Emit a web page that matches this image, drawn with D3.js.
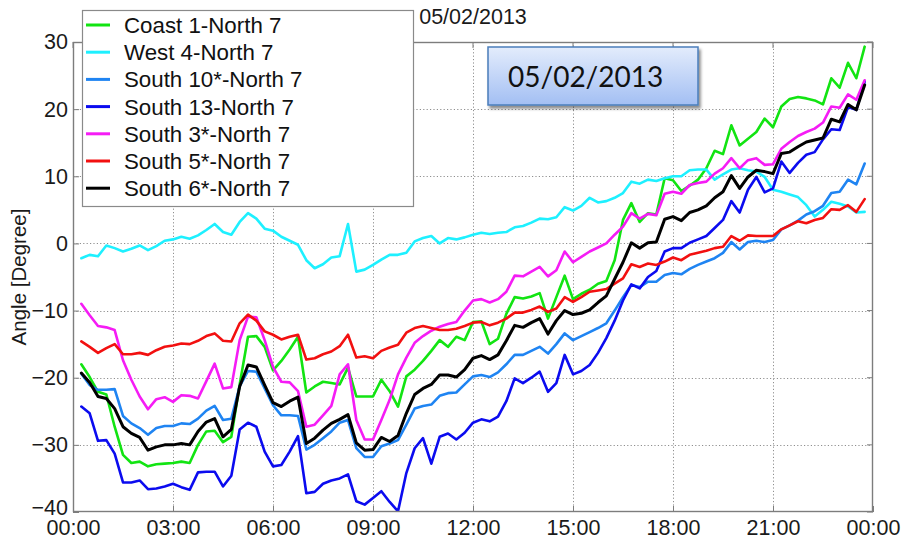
<!DOCTYPE html>
<html><head><meta charset="utf-8">
<script src="https://cdn.jsdelivr.net/npm/d3@7/dist/d3.min.js"></script>
<style>
body{margin:0;background:#fff;}
svg{display:block;font-family:"Liberation Sans",Arial,Helvetica,sans-serif;}
</style>
</head><body>
<svg id="chart" width="904" height="542"></svg>
<script>
// ---------- data ----------
const titleText = "05/02/2013";
const boxText = "05/02/2013";
const yLabel = "Angle [Degree]";
const yTicks = [-40,-30,-20,-10,0,10,20,30];
const xTickHours = [0,3,6,9,12,15,18,21,24];
const xTickLabels = ["00:00","03:00","06:00","09:00","12:00","15:00","18:00","21:00","00:00"];
const seriesNames = ["Coast 1-North 7","West 4-North 7","South 10*-North 7","South 13-North 7","South 3*-North 7","South 5*-North 7","South 6*-North 7"];
const seriesColors = ["#12e412","#1ef0ff","#1f84f2","#0b0bef","#f51cf5","#f21010","#000000"];
// sample times: every 15 minutes from 00:15 to 23:45 (hours)
const hours = d3.range(1,96).map(i => i*0.25);

const coast1 = [-18.0,-19.9,-22.1,-22.5,-27.3,-31.5,-32.7,-32.5,-33.2,-32.9,
 -32.8,-32.7,-32.5,-32.7,-30.0,-28.0,-27.9,-29.6,-28.8,-21.0,
 -13.9,-13.8,-15.4,-18.9,-17.5,-15.8,-13.9,-22.2,-21.3,-20.6,
 -20.8,-21.0,-18.5,-22.8,-22.8,-22.8,-20.3,-22.0,-24.3,-19.8,
 -18.8,-17.5,-16.0,-14.4,-15.4,-13.9,-14.4,-11.7,-11.6,-15.0,
 -14.2,-10.5,-8.0,-8.2,-7.9,-7.4,-11.2,-8.0,-4.8,-8.3,
 -7.5,-6.9,-6.0,-5.6,-2.5,3.5,6.0,3.2,4.5,4.3,
 9.7,9.4,7.8,8.6,9.5,11.2,13.8,13.3,17.6,14.6,
 15.6,16.6,18.6,17.3,20.4,21.5,21.8,21.6,21.3,20.7,
 24.6,23.2,26.9,24.6,29.3];
const west4 = [-2.2,-1.7,-1.9,-0.3,-0.7,-1.2,-0.8,-0.3,-1.0,-0.4,
 0.4,0.6,1.0,0.7,1.2,2.0,2.9,1.7,1.3,3.2,
 4.5,3.7,2.2,1.9,1.0,0.4,-0.2,-2.5,-3.7,-3.1,
 -2.1,-1.9,2.9,-4.2,-3.9,-3.2,-2.4,-1.7,-1.7,-1.4,
 0.3,0.8,1.1,0.0,0.8,0.6,0.9,1.3,1.6,1.4,
 1.6,1.7,2.4,2.6,3.1,3.7,3.6,3.9,5.4,4.9,
 5.6,6.8,6.1,6.3,6.8,7.5,9.2,8.9,9.5,9.3,
 9.7,10.0,10.0,10.9,11.0,11.0,9.5,10.3,11.0,11.2,
 10.9,10.7,9.9,8.0,7.7,7.3,6.9,5.7,4.0,5.0,
 6.2,5.9,5.5,4.6,4.7];
const south10 = [-19.4,-21.1,-21.8,-21.8,-21.7,-25.7,-26.8,-27.5,-28.5,-27.5,
 -27.2,-27.2,-26.8,-26.9,-26.1,-24.9,-24.2,-26.3,-26.1,-21.3,
 -19.0,-19.1,-21.6,-24.1,-25.6,-25.6,-25.7,-30.7,-30.0,-29.0,
 -28.0,-26.7,-26.3,-30.5,-31.8,-31.8,-30.2,-29.8,-29.3,-27.0,
 -24.6,-24.2,-24.0,-22.7,-22.3,-22.2,-21.0,-19.8,-19.6,-19.9,
 -19.2,-18.0,-16.6,-16.6,-16.0,-15.4,-16.4,-15.0,-13.4,-14.4,
 -13.8,-13.2,-12.6,-11.9,-10.0,-8.0,-6.2,-6.5,-5.7,-5.7,
 -4.7,-4.4,-4.6,-3.8,-3.2,-2.7,-2.2,-1.4,0.2,-0.9,
 0.2,0.4,0.2,0.5,2.1,2.7,3.4,4.3,4.8,5.6,
 7.5,7.7,9.5,8.8,11.9];
const south13 = [-24.3,-25.3,-29.4,-29.3,-31.3,-35.6,-35.6,-35.3,-36.6,-36.5,
 -36.2,-35.8,-36.3,-36.7,-34.1,-34.0,-34.0,-36.2,-34.6,-27.7,
 -26.7,-27.3,-31.0,-33.2,-33.0,-31.0,-28.7,-37.2,-37.0,-35.8,
 -35.3,-35.0,-34.4,-38.4,-38.9,-37.9,-36.9,-38.5,-39.9,-34.2,
 -30.5,-29.0,-32.8,-28.8,-28.3,-29.2,-28.2,-26.7,-26.2,-26.5,
 -25.8,-23.5,-20.1,-20.8,-20.0,-19.1,-22.1,-20.8,-16.6,-19.5,
 -19.0,-18.1,-16.3,-14.1,-11.5,-8.5,-6.1,-6.7,-5.0,-4.1,
 -1.2,-0.7,-0.7,0.1,0.6,1.1,2.3,3.5,6.3,4.6,
 8.0,9.9,7.6,8.2,12.2,10.5,12.0,13.2,13.6,15.5,
 17.0,16.9,20.3,19.9,24.1];
const south3 = [-9.0,-10.7,-12.3,-12.5,-12.9,-17.4,-20.3,-22.8,-24.7,-23.2,
 -22.9,-23.6,-22.6,-22.7,-23.1,-20.5,-17.9,-21.6,-21.4,-14.4,
 -10.9,-11.0,-14.4,-18.4,-20.6,-20.7,-22.0,-27.3,-27.0,-25.6,
 -24.2,-19.5,-18.0,-26.3,-29.2,-29.2,-26.3,-23.3,-19.5,-17.0,
 -14.8,-13.8,-13.0,-12.4,-12.0,-11.7,-10.0,-8.5,-8.3,-8.8,
 -8.3,-7.2,-4.8,-4.9,-4.2,-3.5,-4.9,-4.0,-1.2,-2.8,
 -2.0,-1.2,-0.6,0.0,1.3,2.5,4.5,3.7,4.4,4.2,
 7.4,7.7,7.4,8.7,9.0,9.2,10.4,11.2,12.7,11.2,
 12.4,12.7,11.7,11.8,14.1,15.1,16.0,16.6,17.1,18.0,
 20.4,20.2,22.2,21.4,24.3];
const south5 = [-14.6,-15.4,-16.3,-15.6,-15.0,-16.5,-16.5,-16.3,-16.6,-15.9,
 -15.4,-15.2,-14.9,-15.0,-14.5,-13.8,-13.4,-14.5,-14.6,-11.9,
 -10.6,-11.5,-13.1,-13.6,-14.3,-13.9,-13.6,-17.3,-17.1,-16.5,
 -16.1,-15.3,-13.6,-17.0,-16.8,-17.1,-16.0,-15.5,-15.1,-13.3,
 -12.6,-12.3,-12.6,-12.9,-12.9,-12.7,-12.3,-11.8,-11.7,-12.2,
 -11.8,-11.2,-10.3,-10.3,-9.9,-9.4,-10.2,-9.7,-8.0,-8.7,
 -8.0,-7.2,-7.0,-6.8,-6.0,-5.2,-3.1,-3.5,-3.0,-3.2,
 -2.7,-2.1,-2.5,-1.7,-1.4,-1.1,-0.7,-0.5,1.1,0.4,
 1.2,1.1,1.1,1.1,2.1,2.7,3.3,3.0,3.5,3.8,
 5.1,5.0,5.7,4.7,6.6];
const south6 = [-19.3,-20.7,-22.8,-23.1,-24.6,-27.3,-28.3,-28.9,-30.8,-30.3,
 -30.0,-30.0,-29.8,-30.0,-28.0,-26.6,-26.1,-28.8,-27.7,-21.3,
 -18.1,-18.4,-21.1,-23.7,-24.3,-23.5,-22.9,-29.8,-29.0,-27.8,
 -26.8,-26.2,-25.5,-29.7,-30.8,-30.7,-28.9,-29.5,-28.6,-25.3,
 -22.5,-21.6,-21.0,-19.6,-19.6,-19.9,-18.8,-17.1,-16.7,-17.3,
 -16.6,-14.5,-12.2,-12.5,-11.8,-11.2,-13.5,-11.5,-10.0,-10.6,
 -10.4,-9.9,-8.8,-7.8,-5.3,-2.8,0.1,-0.7,0.1,0.2,
 3.6,4.0,3.4,4.6,5.0,5.6,6.8,7.7,10.1,8.2,
 9.9,10.9,10.7,10.4,13.4,13.6,14.4,15.1,15.4,15.7,
 18.5,18.1,20.7,19.9,23.6];

const seriesValues = [coast1, west4, south10, south13, south3, south5, south6];

// ---------- layout ----------
const plot = {left:73, right:873, top:42, bottom:512};
const svg = d3.select("#chart");

const x = d3.scaleLinear().domain([0,24]).range([plot.left, plot.right]);
const y = d3.scaleLinear().domain([-40,30]).range([plot.bottom, plot.top]);

const defs = svg.append("defs");
defs.append("clipPath").attr("id","clip").append("rect")
  .attr("x",plot.left).attr("y",plot.top)
  .attr("width",plot.right-plot.left).attr("height",plot.bottom-plot.top);

// grid
const grid = svg.append("g").attr("stroke","#8f8f8f").attr("stroke-width",1).attr("stroke-dasharray","1.2,2.2");
grid.selectAll(".gx").data(xTickHours.slice(1,-1)).join("line")
  .attr("x1",d=>Math.round(x(d))+0.5).attr("x2",d=>Math.round(x(d))+0.5)
  .attr("y1",plot.top).attr("y2",plot.bottom);
grid.selectAll(".gy").data(yTicks.slice(1,-1)).join("line")
  .attr("y1",d=>Math.round(y(d))+0.5).attr("y2",d=>Math.round(y(d))+0.5)
  .attr("x1",plot.left).attr("x2",plot.right);

// lines
const line = d3.line().x((d,i)=>x(hours[i])).y(d=>y(d));
const lines = svg.append("g").attr("clip-path","url(#clip)");
seriesValues.forEach((vals,k)=>{
  lines.append("path").datum(vals)
    .attr("fill","none")
    .attr("stroke",seriesColors[k])
    .attr("stroke-width", k===6 ? 3 : 2.6)
    .attr("stroke-linejoin","round")
    .attr("stroke-linecap","round")
    .attr("d",line);
});

// axes
const axisColor = "#7d7d7d";
const yAxis = svg.append("g").attr("transform",`translate(${plot.left},0)`)
  .call(d3.axisLeft(y).tickValues(yTicks).tickSize(-6).tickPadding(5).tickFormat(d3.format("d")));
const xAxis = svg.append("g").attr("transform",`translate(0,${plot.bottom})`)
  .call(d3.axisBottom(x).tickValues(xTickHours).tickSize(-6).tickPadding(8).tickFormat((d,i)=>xTickLabels[i]));
[yAxis,xAxis].forEach(a=>{
  a.select(".domain").remove();
  a.selectAll(".tick line").attr("stroke",axisColor);
  a.selectAll(".tick text").attr("fill","#1a1a1a").style("font-size","21.5px")
    .style("font-family",'"Liberation Sans",Arial,sans-serif');
});
// -40 label sits just above the x labels, as in the reference
yAxis.selectAll(".tick text").filter(d=>d===-40).attr("dy","0.1em");
// right/top ticks
svg.append("g").selectAll("line").data(yTicks).join("line")
  .attr("x1",plot.right).attr("x2",plot.right-6)
  .attr("y1",d=>y(d)).attr("y2",d=>y(d)).attr("stroke",axisColor);
svg.append("g").selectAll("line").data(xTickHours).join("line")
  .attr("y1",plot.top).attr("y2",plot.top+6)
  .attr("x1",d=>x(d)).attr("x2",d=>x(d)).attr("stroke",axisColor);

// box
svg.append("rect").attr("x",plot.left+0.5).attr("y",plot.top+0.5)
  .attr("width",plot.right-plot.left-1).attr("height",plot.bottom-plot.top-1)
  .attr("fill","none").attr("stroke",axisColor).attr("stroke-width",1.4);

// y label
svg.append("text").attr("transform",`translate(26,${(plot.top+plot.bottom)/2}) rotate(-90)`)
  .attr("text-anchor","middle").attr("fill","#1a1a1a").style("font-size","20.5px").text(yLabel);

// title
svg.append("text").attr("x",(plot.left+plot.right)/2).attr("y",24)
  .attr("text-anchor","middle").attr("fill","#1a1a1a").style("font-size","21.5px").text(titleText);

// legend
const leg = svg.append("g");
leg.append("rect").attr("x",82.5).attr("y",10.5).attr("width",331).attr("height",196)
  .attr("fill","#fff").attr("stroke","#8a8a8a").attr("stroke-width",1.2);
seriesNames.forEach((n,k)=>{
  const cy = 25 + k*27.2;
  leg.append("line").attr("x1",86).attr("x2",110).attr("y1",cy).attr("y2",cy)
    .attr("stroke",seriesColors[k]).attr("stroke-width",3);
  leg.append("text").attr("x",124).attr("y",cy).attr("dy","0.36em")
    .attr("fill","#111").style("font-size","22.3px").text(n);
});

// annotation box
const grad = defs.append("linearGradient").attr("id","boxgrad").attr("x1",0).attr("y1",0).attr("x2",0).attr("y2",1);
grad.append("stop").attr("offset","0%").attr("stop-color","#e3ecfc");
grad.append("stop").attr("offset","100%").attr("stop-color","#a3bff3");
const flt = defs.append("filter").attr("id","shadow").attr("x","-10%").attr("y","-10%").attr("width","130%").attr("height","140%");
flt.append("feDropShadow").attr("dx",2).attr("dy",3).attr("stdDeviation",1.8).attr("flood-color","#000").attr("flood-opacity",0.45);
svg.append("rect").attr("x",488).attr("y",47).attr("width",210).attr("height",58)
  .attr("fill","url(#boxgrad)").attr("stroke","#4a7ebb").attr("stroke-width",1.5)
  .attr("filter","url(#shadow)");
svg.append("text").attr("x",508).attr("y",87).attr("fill","#111")
  .style("font-family","Lato, 'Open Sans', sans-serif").style("font-size","28px").text(boxText);
</script>
</body></html>
